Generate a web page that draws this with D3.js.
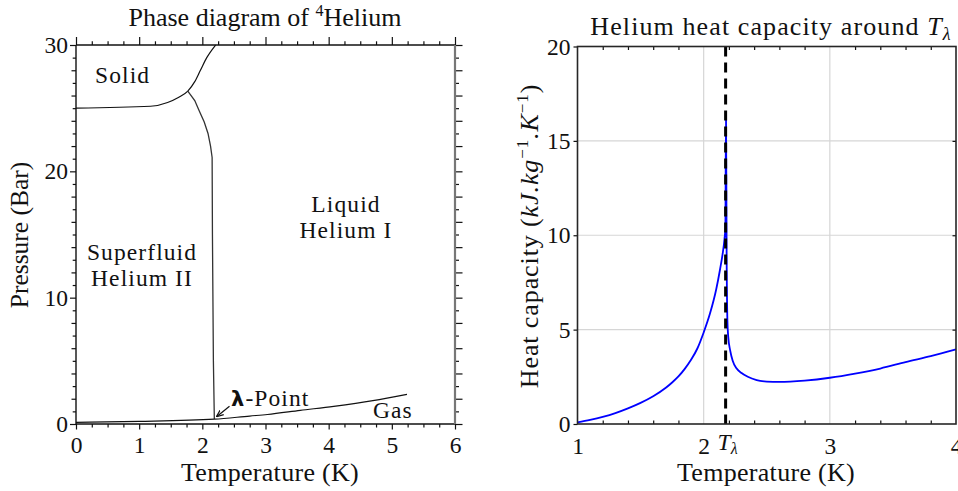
<!DOCTYPE html>
<html><head><meta charset="utf-8">
<script src="https://cdn.jsdelivr.net/npm/d3@7"></script>
<style>
html,body{margin:0;padding:0;background:#fff;}
svg{display:block;}
text{font-family:"Liberation Serif",serif;fill:#111;}
</style></head>
<body>
<svg id="c" width="958" height="491"></svg>
<script>
// ---------- Data: phase diagram of 4He ----------
const meltT = [0, 1.18, 1.45, 1.62, 1.77, 1.88, 1.97, 2.07, 2.21];
const meltP = [25.0, 25.15, 25.45, 25.85, 26.35, 27.1, 28.0, 29.0, 30.0];
const lambdaT = [1.77, 1.88, 1.95, 2.03, 2.09, 2.13, 2.155, 2.16, 2.175, 2.19];
const lambdaP = [26.35, 25.6, 24.8, 23.9, 23.0, 22.0, 21.1, 15, 5, 0.4];
const vaporT = [0, 1, 2.19, 2.75, 3.03, 3.55, 4.08, 4.7, 5.24];
const vaporP = [0.13, 0.2, 0.38, 0.63, 0.75, 1.08, 1.4, 1.85, 2.35];
const phaseXTicks = [0, 1, 2, 3, 4, 5, 6];
const phaseYTicks = [0, 10, 20, 30];

// ---------- Data: heat capacity ----------
const cpT = [1.0, 1.1, 1.2, 1.3, 1.4, 1.5, 1.6, 1.7, 1.75, 1.8, 1.85, 1.9, 1.95, 2.0, 2.05, 2.1, 2.13, 2.15, 2.165, 2.172,
             2.177, 2.182, 2.188, 2.195, 2.21, 2.23, 2.26, 2.3, 2.35, 2.42, 2.5, 2.6, 2.8, 3.0, 3.2, 3.4, 3.6, 3.8, 4.0];
const cpVal = [0.09, 0.22, 0.38, 0.58, 0.83, 1.12, 1.47, 1.92, 2.2, 2.52, 2.92, 3.4, 4.0, 4.85, 5.85, 7.15, 8.2, 9.0, 9.8, 10.4,
             16.5, 9.0, 5.5, 4.6, 3.9, 3.35, 2.95, 2.7, 2.5, 2.33, 2.25, 2.23, 2.3, 2.45, 2.67, 2.94, 3.28, 3.6, 3.95];
const Tlambda = 2.174;
const cpXTicks = [1, 2, 3, 4];
const cpYTicks = [0, 5, 10, 15, 20];

const svg = d3.select("#c");
const FS = 26, TICKFS = 23.5, INFS = 23.5, INLS = 1.1;

// ================= LEFT: phase diagram =================
const x1 = d3.scaleLinear().domain([0, 6]).range([76, 455]);
const y1 = d3.scaleLinear().domain([0, 30]).range([424, 45]);
const L = svg.append("g");

function tickAxis(g, axis) {
  const a = g.call(axis);
  a.select(".domain").remove();
  a.selectAll("line").attr("stroke", "#111").attr("stroke-width", 1.2);
  a.selectAll("text").attr("font-size", TICKFS).attr("fill", "#111").attr("font-family", "Liberation Serif");
  return a;
}
const qT = d3.range(0, 6.001, 0.25).filter(v => Math.abs(v - Math.round(v)) > 1e-6);
const oddP = d3.range(1, 30, 2);
const evenP = d3.range(2, 30, 2).filter(v => v % 10 !== 0);

// bottom axis
tickAxis(L.append("g").attr("transform", "translate(0,424)"), d3.axisBottom(x1).tickValues(qT).tickSize(3.5).tickFormat(""));
tickAxis(L.append("g").attr("transform", "translate(0,424)"), d3.axisBottom(x1).tickValues(phaseXTicks).tickSize(5.5).tickPadding(7).tickFormat(d3.format("d")));
// top axis
tickAxis(L.append("g").attr("transform", "translate(0,45)"), d3.axisTop(x1).tickValues(qT).tickSize(3.7).tickFormat(""));
tickAxis(L.append("g").attr("transform", "translate(0,45)"), d3.axisTop(x1).tickValues(phaseXTicks).tickSize(8).tickFormat(""));
// left axis
tickAxis(L.append("g").attr("transform", "translate(76,0)"), d3.axisLeft(y1).tickValues(oddP).tickSize(3.3).tickFormat(""));
tickAxis(L.append("g").attr("transform", "translate(76,0)"), d3.axisLeft(y1).tickValues(evenP).tickSize(4.5).tickFormat(""));
tickAxis(L.append("g").attr("transform", "translate(76,0)"), d3.axisLeft(y1).tickValues(phaseYTicks).tickSize(6).tickPadding(2).tickFormat(d3.format("d")));
// right axis
tickAxis(L.append("g").attr("transform", "translate(455,0)"), d3.axisRight(y1).tickValues(oddP).tickSize(4).tickFormat(""));
tickAxis(L.append("g").attr("transform", "translate(455,0)"), d3.axisRight(y1).tickValues(evenP.concat(phaseYTicks)).tickSize(7.5).tickFormat(""));
// frame
L.append("line").attr("x1", 76).attr("x2", 455).attr("y1", 424).attr("y2", 424).attr("stroke", "#111").attr("stroke-width", 1.4);
L.append("line").attr("x1", 76).attr("x2", 455).attr("y1", 45).attr("y2", 45).attr("stroke", "#111").attr("stroke-width", 1.4);
L.append("line").attr("x1", 76).attr("x2", 76).attr("y1", 45).attr("y2", 424).attr("stroke", "#111").attr("stroke-width", 1.4);
L.append("line").attr("x1", 455).attr("x2", 455).attr("y1", 45).attr("y2", 424).attr("stroke", "#777").attr("stroke-width", 2.2);

// curves
const zip = (a, b) => a.map((v, i) => [v, b[i]]);
const mk = (xs, ys, c) => d3.line().x(d => xs(d[0])).y(d => ys(d[1])).curve(c);
L.append("path").attr("d", mk(x1, y1, d3.curveMonotoneX)(zip(meltT, meltP))).attr("fill", "none").attr("stroke", "#111").attr("stroke-width", 1.2);
L.append("path").attr("d", mk(x1, y1, d3.curveLinear)(zip(lambdaT, lambdaP))).attr("fill", "none").attr("stroke", "#333").attr("stroke-width", 1.3);
L.append("path").attr("d", mk(x1, y1, d3.curveMonotoneX)(zip(vaporT, vaporP))).attr("fill", "none").attr("stroke", "#111").attr("stroke-width", 1.2);

// labels
const lab = (g, x, y, t, size, anchor) => g.append("text").attr("x", x).attr("y", y).attr("font-size", size || INFS).attr("text-anchor", anchor || "start").text(t);
lab(L, 95, 83, "Solid").attr("letter-spacing", INLS);
lab(L, 346, 212, "Liquid", INFS, "middle").attr("letter-spacing", INLS);
lab(L, 346, 238, "Helium I", INFS, "middle").attr("letter-spacing", INLS);
lab(L, 142, 260, "Superfluid", INFS, "middle").attr("letter-spacing", INLS);
lab(L, 142, 286, "Helium II", INFS, "middle").attr("letter-spacing", INLS);
lab(L, 373, 418, "Gas").attr("letter-spacing", INLS);
const lp = L.append("text").attr("x", 231).attr("y", 406).attr("font-size", INFS).attr("letter-spacing", INLS);
lp.append("tspan").attr("font-family", "DejaVu Sans").attr("font-weight", "bold").attr("font-size", 21).text("λ");
lp.append("tspan").text("-Point");
// arrow
svg.append("defs").append("marker").attr("id", "ah").attr("viewBox", "0 0 10 10").attr("refX", 9).attr("refY", 5)
  .attr("markerWidth", 6).attr("markerHeight", 6).attr("orient", "auto")
  .append("path").attr("d", "M0,1 L10,5 L0,9").attr("fill", "none").attr("stroke", "#111").attr("stroke-width", 1.6);
L.append("line").attr("x1", x1(2.43)).attr("y1", y1(1.4)).attr("x2", x1(2.23)).attr("y2", y1(0.6))
  .attr("stroke", "#111").attr("stroke-width", 1.2).attr("marker-end", "url(#ah)");

// title & axis labels
const t1 = L.append("text").attr("x", 265).attr("y", 26).attr("font-size", FS).attr("text-anchor", "middle");
t1.append("tspan").text("Phase diagram of ");
t1.append("tspan").attr("font-size", 16).attr("dy", -10).text("4");
t1.append("tspan").attr("dy", 10).text("Helium");
lab(L, 270, 481, "Temperature (K)", FS, "middle").attr("letter-spacing", 0.3);
L.append("text").attr("transform", "translate(28,235) rotate(-90)").attr("font-size", 25.5).attr("text-anchor", "middle").text("Pressure (Bar)");

// ================= RIGHT: heat capacity =================
const x2 = d3.scaleLinear().domain([1, 4]).range([577.5, 956]);
const y2 = d3.scaleLinear().domain([0, 20]).range([424, 46.5]);
const R = svg.append("g");

// grid
R.append("g").selectAll("line").data([2, 3]).join("line")
  .attr("x1", d => x2(d)).attr("x2", d => x2(d)).attr("y1", y2(0)).attr("y2", y2(20))
  .attr("stroke", "#d6d6d6").attr("stroke-width", 1.2);
R.append("g").selectAll("line").data([5, 10, 15]).join("line")
  .attr("x1", x2(1)).attr("x2", x2(4)).attr("y1", d => y2(d)).attr("y2", d => y2(d))
  .attr("stroke", "#d6d6d6").attr("stroke-width", 1.2);

const minorT = d3.range(1.2, 4, 0.2).filter(v => Math.abs(v - Math.round(v)) > 1e-6);
tickAxis(R.append("g").attr("transform", "translate(0,424)"), d3.axisTop(x2).tickValues(minorT).tickSize(3.5).tickFormat(""));
tickAxis(R.append("g").attr("transform", "translate(0,46.5)"), d3.axisBottom(x2).tickValues(minorT).tickSize(3.5).tickFormat(""));
tickAxis(R.append("g").attr("transform", "translate(956,0)"), d3.axisLeft(y2).tickValues([5, 10, 15]).tickSize(3.5).tickFormat(""));
tickAxis(R.append("g").attr("transform", "translate(0,424)"), d3.axisBottom(x2).tickValues(cpXTicks).tickSize(0).tickPadding(13).tickFormat(d3.format("d")));
tickAxis(R.append("g").attr("transform", "translate(577.5,0)"), d3.axisLeft(y2).tickValues(cpYTicks).tickSize(4).tickPadding(3).tickFormat(d3.format("d")));

// Tλ tick label
const tl = R.append("text").attr("x", x2(Tlambda) - 8).attr("y", 450).attr("font-size", 23.5).attr("font-style", "italic");
tl.append("tspan").text("T");
tl.append("tspan").attr("font-size", 16).attr("dy", 4).text("λ");

// curve
R.append("path").attr("d", mk(x2, y2, d3.curveMonotoneX)(zip(cpT, cpVal)))
  .attr("fill", "none").attr("stroke", "#0000ff").attr("stroke-width", 1.8);

// dashed Tλ line
R.append("line").attr("x1", x2(Tlambda)).attr("x2", x2(Tlambda)).attr("y1", y2(20)).attr("y2", y2(0))
  .attr("stroke", "#000").attr("stroke-width", 3).attr("stroke-dasharray", "10,6");

// box
R.append("rect").attr("x", x2(1)).attr("y", y2(20)).attr("width", x2(4) - x2(1)).attr("height", y2(0) - y2(20))
  .attr("fill", "none").attr("stroke", "#262626").attr("stroke-width", 1.6);

// title & labels
const t2 = R.append("text").attr("x", 771).attr("y", 35).attr("font-size", FS).attr("text-anchor", "middle").attr("letter-spacing", 1.1);
t2.append("tspan").text("Helium heat capacity around ");
t2.append("tspan").attr("font-style", "italic").text("T");
t2.append("tspan").attr("font-style", "italic").attr("font-size", 18).attr("dy", 5).text("λ");
lab(R, 766, 481, "Temperature (K)", FS, "middle").attr("letter-spacing", 0.3);
const yl = R.append("text").attr("transform", "translate(538,236) rotate(-90)").attr("font-size", FS).attr("text-anchor", "middle").attr("letter-spacing", 0.9);
yl.append("tspan").text("Heat capacity (");
yl.append("tspan").attr("font-style", "italic").text("kJ.kg");
yl.append("tspan").attr("font-size", 17).attr("dy", -10).text("−1");
yl.append("tspan").attr("font-style", "italic").attr("dy", 10).text(".K");
yl.append("tspan").attr("font-size", 17).attr("dy", -10).text("−1");
yl.append("tspan").attr("dy", 10).text(")");
</script>
</body></html>
